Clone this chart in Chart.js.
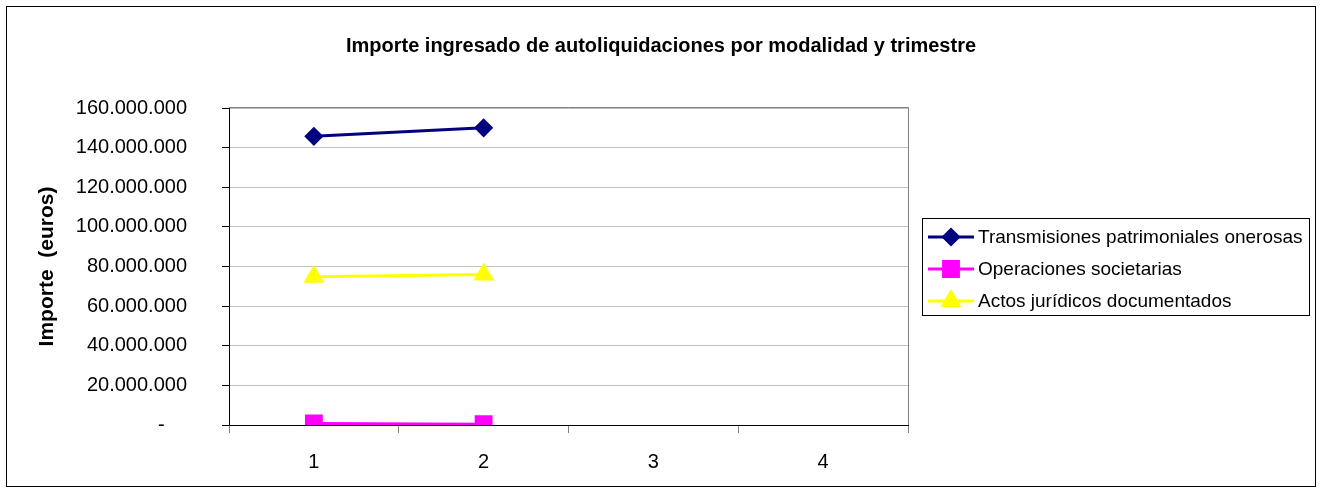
<!DOCTYPE html>
<html>
<head>
<meta charset="utf-8">
<script src="https://cdn.jsdelivr.net/npm/chart.js@4/dist/chart.umd.min.js"></script>
<style>
html,body{margin:0;padding:0;background:#fff;}
canvas{display:block;}
</style>
</head>
<body>
<canvas id="c" width="1322" height="493"></canvas>
<script>
const categories = ['1', '2', '3', '4'];
const transmisiones = [145700000, 150000000, null, null];
const operaciones = [800000, 400000, null, null];
const actos = [74800000, 76000000, null, null];
const seriesNames = ['Transmisiones patrimoniales onerosas', 'Operaciones societarias', 'Actos jurídicos documentados'];
const yTickLabels = ['-    ', '20.000.000', '40.000.000', '60.000.000', '80.000.000', '100.000.000', '120.000.000', '140.000.000', '160.000.000'];
const chartTitle = 'Importe ingresado de autoliquidaciones por modalidad y trimestre';
const yAxisTitle = 'Importe  (euros)';

const FONT = "'Liberation Sans', Arial, sans-serif";

const framePlugin = {
  id: 'frame',
  beforeDraw(chart) {
    const ctx = chart.ctx;
    ctx.save();
    ctx.fillStyle = '#fff';
    ctx.fillRect(0, 0, chart.width, chart.height);
    ctx.restore();
  },
  afterDraw(chart) {
    const ctx = chart.ctx;
    const a = chart.chartArea;
    ctx.save();
    // outer border
    ctx.strokeStyle = '#000';
    ctx.lineWidth = 1;
    ctx.strokeRect(6.5, 6.5, 1309, 480);
    // plot area border top/right
    ctx.strokeStyle = '#808080';
    ctx.beginPath();
    ctx.moveTo(a.left, Math.round(a.top) - 0.5);
    ctx.lineTo(Math.round(a.right) + 0.5, Math.round(a.top) - 0.5);
    ctx.lineTo(Math.round(a.right) + 0.5, a.bottom);
    ctx.stroke();
    // legend
    const lx = 922, ly = 218, lw = 387, lh = 97;
    ctx.strokeStyle = '#000';
    ctx.strokeRect(lx + 0.5, ly + 0.5, lw, lh);
    const rowH = 32;
    chart.data.datasets.forEach((ds, i) => {
      const y = ly + 19 + i * rowH;
      ctx.strokeStyle = ds.borderColor;
      ctx.lineWidth = 3;
      ctx.beginPath();
      ctx.moveTo(lx + 6, y);
      ctx.lineTo(lx + 52, y);
      ctx.stroke();
      Chart.helpers.drawPoint(ctx, {
        pointStyle: ds.pointStyle,
        radius: ds.pointRadius,
        rotation: 0,
        borderWidth: 1
      }, lx + 29, y);
      ctx.fillStyle = ds.pointBackgroundColor;
      ctx.strokeStyle = ds.pointBorderColor;
      ctx.fill();
      ctx.fillStyle = '#000';
      ctx.font = '19px ' + FONT;
      ctx.textBaseline = 'middle';
      ctx.textAlign = 'left';
      ctx.fillText(ds.label, lx + 56, y + 1);
    });
    ctx.restore();
  }
};

function makeDataset(label, data, color, style, radius) {
  return {
    label: label,
    data: data,
    borderColor: color,
    backgroundColor: color,
    pointBackgroundColor: color,
    pointBorderColor: color,
    pointStyle: style,
    pointRadius: radius,
    pointHoverRadius: radius,
    borderWidth: 3,
    tension: 0,
    spanGaps: false
  };
}

new Chart(document.getElementById('c'), {
  type: 'line',
  data: {
    labels: categories,
    datasets: [
      makeDataset(seriesNames[0], transmisiones, '#000080', 'rectRot', 7.5),
      makeDataset(seriesNames[1], operaciones, '#FF00FF', 'rect', 10.5),
      makeDataset(seriesNames[2], actos, '#FFFF00', 'triangle', 9)
    ]
  },
  options: {
    responsive: false,
    animation: false,
    events: [],
    layout: { padding: { left: 0, right: 0, top: 0, bottom: 2 } },
    plugins: {
      legend: { display: false },
      tooltip: { enabled: false },
      title: {
        display: true,
        text: chartTitle,
        color: '#000',
        font: { family: FONT, size: 20, weight: 'bold', lineHeight: 1.2 },
        padding: { top: 34, bottom: 50 }
      }
    },
    scales: {
      x: {
        offset: true,
        grid: {
          offset: true,
          drawOnChartArea: false,
          drawTicks: true,
          tickLength: 8,
          tickColor: '#808080'
        },
        border: { display: true, color: '#000', width: 1 },
        ticks: {
          color: '#000',
          font: { family: FONT, size: 20 },
          padding: 17,
          maxRotation: 0
        }
      },
      y: {
        min: 0,
        max: 160000000,
        afterFit(scale) { scale.width = 229; },
        grid: {
          color: (ctx) => (ctx.tick && ctx.tick.value === 0) ? '#000' : '#c0c0c0',
          drawTicks: true,
          tickLength: 7,
          tickColor: '#000'
        },
        border: { display: true, color: '#000', width: 1 },
        ticks: {
          stepSize: 20000000,
          color: '#000',
          font: { family: FONT, size: 20 },
          padding: 35,
          callback: (v, i) => yTickLabels[i]
        },
        title: {
          display: true,
          text: yAxisTitle,
          color: '#000',
          font: { family: FONT, size: 21, weight: 'bold', lineHeight: 1.2 },
          padding: { top: 35, bottom: 0 }
        }
      },
      rightSpace: {
        type: 'linear',
        position: 'right',
        display: true,
        afterFit(scale) { scale.width = 414; },
        grid: { display: false, drawTicks: false },
        border: { display: false },
        ticks: { display: false }
      }
    }
  },
  plugins: [framePlugin]
});
</script>
</body>
</html>
